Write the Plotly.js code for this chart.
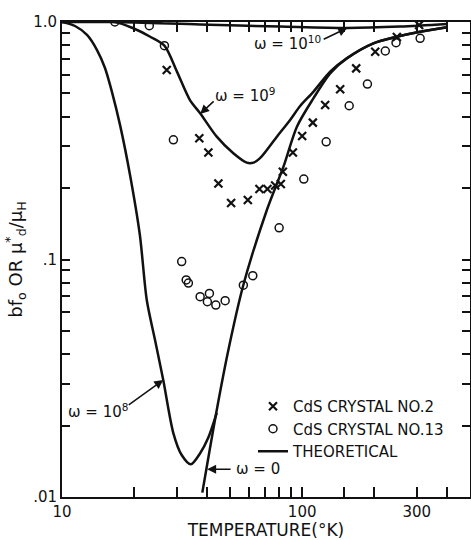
<!DOCTYPE html>
<html><head><meta charset="utf-8">
<script src="https://cdn.plot.ly/plotly-3.0.1.min.js"></script>
<style>html,body{margin:0;padding:0;background:#fff}</style>
</head><body><div id="chart" style="width:471px;height:540px"></div>
<script>
// CdS crystal No.2 (crosses)
const crystal2T = [27.3, 37.3, 40.7, 44.8, 50.6, 59.4, 66.4, 71.7, 77.2, 81.5, 83.1, 91.5, 100, 110.8, 124.7, 144, 167.9, 201.5, 248, 307];
const crystal2V = [0.628, 0.324, 0.282, 0.209, 0.173, 0.178, 0.198, 0.198, 0.205, 0.208, 0.234, 0.282, 0.331, 0.377, 0.447, 0.521, 0.638, 0.750, 0.865, 0.971];
// CdS crystal No.13 (circles)
const crystal13T = [16.6, 23.1, 26.7, 29.1, 31.5, 32.9, 33.6, 37.6, 41.1, 40.3, 43.7, 47.8, 56.9, 62.3, 80.2, 101.6, 125.9, 157, 187, 222, 246, 310];
const crystal13V = [1.0, 0.965, 0.795, 0.319, 0.098, 0.082, 0.0796, 0.0697, 0.072, 0.0664, 0.0643, 0.0671, 0.078, 0.0855, 0.136, 0.218, 0.313, 0.444, 0.548, 0.755, 0.818, 0.854];
// Theoretical curves
const w10T = [10, 16.6, 37.6, 81, 154, 256, 402];
const w10V = [1.0, 1.0, 0.976, 0.957, 0.944, 0.957, 0.981];
const w9T = [10, 16.6, 19.8, 23.3, 26.7, 30.1, 34.1, 37.6, 44.1, 51.7, 58.8, 62.7, 66.8, 78.5, 89.1, 98.1, 111.1, 130.8, 153.5, 198, 248, 310, 401];
const w9V = [1.0, 1.0, 0.941, 0.867, 0.795, 0.618, 0.469, 0.413, 0.329, 0.280, 0.2557, 0.2557, 0.267, 0.329, 0.387, 0.443, 0.507, 0.618, 0.703, 0.813, 0.867, 0.910, 0.950];
const w8T = [10, 11.33, 12.71, 13.99, 15.1, 16.15, 17.45, 19.2, 21.1, 22.54, 24.4, 26.4, 29.1, 31.5, 34.4, 37.6, 40.6, 44.1];
const w8V = [1.0, 0.962, 0.882, 0.762, 0.640, 0.507, 0.368, 0.227, 0.1268, 0.0675, 0.0458, 0.0311, 0.01854, 0.01502, 0.01373, 0.01528, 0.0177, 0.0226];
const w0T = [38.4, 44.1, 49.3, 56.9, 71.3, 83.6, 95.1, 111.4, 130.8, 153.5, 198, 248, 310, 401];
const w0V = [0.01043, 0.02325, 0.0416, 0.0781, 0.1616, 0.2459, 0.3623, 0.477, 0.608, 0.703, 0.813, 0.867, 0.910, 0.950];
// Ticks
const xLabelVals = [10, 100, 300];
const xLabelText = ['10', '100', '300'];
const xMinorVals = [20, 30, 40, 50, 60, 70, 80, 90, 150, 200, 400];
const yLabelVals = [0.01, 0.1, 1];
const yLabelText = ['.01', '.1', '1.0'];
const yMinorVals = [0.02, 0.03, 0.04, 0.05, 0.06, 0.07, 0.08, 0.09, 0.2, 0.3, 0.4, 0.5, 0.6, 0.7, 0.8, 0.9];

function allTicks(labelVals, labelText, minorVals) {
  const vals = labelVals.concat(minorVals).sort((a, b) => a - b);
  const text = vals.map(v => { const i = labelVals.indexOf(v); return i >= 0 ? labelText[i] : ''; });
  return {vals: vals, text: text};
}
const xT = allTicks(xLabelVals, xLabelText, xMinorVals);
const yT = allTicks(yLabelVals, yLabelText, yMinorVals);

const FONT = 'DejaVu Sans, Arial, sans-serif';
const INK = '#111';
const lineStyle = {color: INK, width: 2.5, shape: 'spline', smoothing: 0.8};

const traces = [
  {x: crystal2T, y: crystal2V, mode: 'markers', name: 'CdS CRYSTAL NO.2', legendrank: 1, legendgroup: 'a',
   marker: {symbol: 'x-thin-open', size: 8, color: INK, line: {color: INK, width: 2.2}}},
  {x: crystal13T, y: crystal13V, mode: 'markers', name: 'CdS CRYSTAL NO.13', legendrank: 2, legendgroup: 'b',
   marker: {symbol: 'circle-open', size: 8, color: INK, line: {color: INK, width: 1.5}}},
  {x: w10T, y: w10V, mode: 'lines', name: 'THEORETICAL', legendrank: 3, legendgroup: 'c', line: lineStyle},
  {x: w9T, y: w9V, mode: 'lines', showlegend: false, line: lineStyle},
  {x: w8T, y: w8V, mode: 'lines', showlegend: false, line: lineStyle},
  {x: w0T, y: w0V, mode: 'lines', showlegend: false, line: lineStyle}
];

function px2paperX(p) { return (p - 62) / 408; }
function px2paperY(p) { return (497 - p) / 475; }
const L = Math.log10;

const annText = {family: FONT, size: 15, color: INK};
const arrow = {showarrow: true, arrowhead: 2, arrowsize: 1.2, arrowwidth: 1.5, arrowcolor: INK, text: '', xref: 'x', yref: 'y', standoff: 0};
function label(text, px, py) {
  return {text: text, xref: 'paper', yref: 'paper', x: px2paperX(px), y: px2paperY(py),
          xanchor: 'center', yanchor: 'middle', showarrow: false, font: annText};
}

const layout = {
  width: 471, height: 540,
  margin: {l: 62, r: 1, t: 22, b: 43},
  font: {family: FONT, size: 15, color: INK},
  showlegend: true,
  legend: {x: px2paperX(253), y: px2paperY(390), xanchor: 'left', yanchor: 'top', bgcolor: 'rgba(0,0,0,0)',
           font: {family: FONT, size: 15, color: INK}, tracegroupgap: 0, traceorder: 'grouped', itemwidth: 30},
  xaxis: {type: 'log', range: [1, L(500)], tickmode: 'array', tickvals: xT.vals, ticktext: xT.text,
          ticks: 'inside', ticklen: 10, tickwidth: 2, tickcolor: INK, showline: true, linewidth: 2, linecolor: INK,
          mirror: 'ticks', showgrid: false, zeroline: false,
          tickfont: {family: FONT, size: 15, color: INK},
          title: {text: 'TEMPERATURE(°K)', font: {family: FONT, size: 17, color: INK}, standoff: 0}},
  yaxis: {type: 'log', range: [-2, 0], tickmode: 'array', tickvals: yT.vals, ticktext: yT.text,
          ticks: 'inside', ticklen: 8, tickwidth: 2, tickcolor: INK, showline: true, linewidth: 2, linecolor: INK,
          mirror: 'ticks', showgrid: false, zeroline: false,
          tickfont: {family: FONT, size: 15, color: INK},
          title: {text: 'bf<sub>o</sub> OR μ<sup>*</sup><sub>d</sub>/μ<sub>H</sub>', font: {family: FONT, size: 18, color: INK}, standoff: 6}},
  annotations: [
    Object.assign({}, arrow, {x: L(154), y: L(0.944), ax: -25, ay: 12}),
    label('ω = 10<sup>10</sup>', 287, 43),
    Object.assign({}, arrow, {x: L(37.6), y: L(0.410), ax: 15, ay: -14}),
    label('ω = 10<sup>9</sup>', 245, 95),
    Object.assign({}, arrow, {x: L(26.4), y: L(0.0311), ax: -36, ay: 26}),
    label('ω = 10<sup>8</sup>', 98, 411),
    Object.assign({}, arrow, {x: L(40.2), y: L(0.0131), ax: 25, ay: 0}),
    label('ω = 0', 258, 469)
  ]
};

Plotly.newPlot('chart', traces, layout, {displayModeBar: false});
</script>
</body></html>
